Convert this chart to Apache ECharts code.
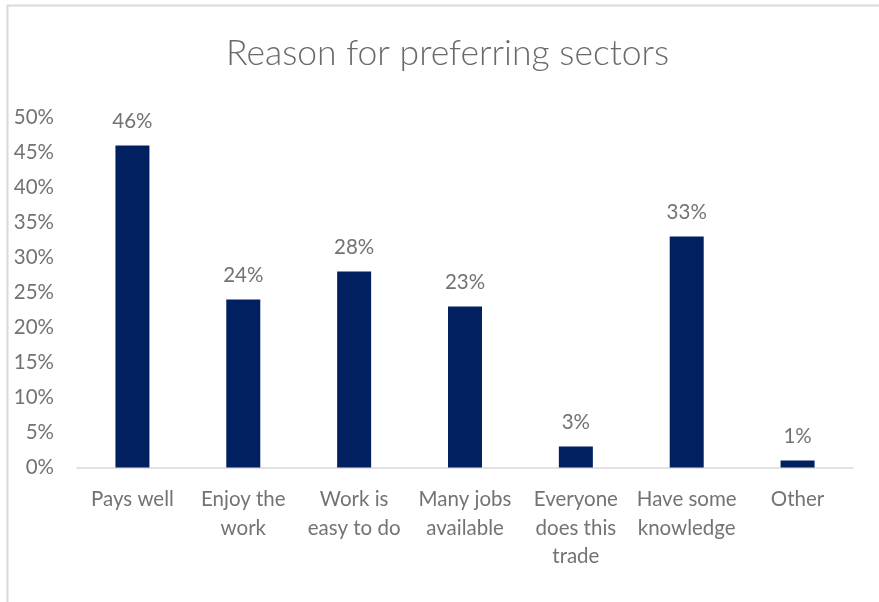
<!DOCTYPE html>
<html>
<head>
<meta charset="utf-8">
<script src="https://cdn.jsdelivr.net/npm/echarts@6/dist/echarts.min.js"></script>
<style>
  html, body { margin: 0; padding: 0; background: #ffffff; }
  #chart { width: 879px; height: 602px; }
</style>
</head>
<body>
<div id="chart"></div>
<script>
// Reasons given for preferring a sector (share of respondents, %)
const chartTitle = 'Reason for preferring sectors';
const categories = [
  'Pays well',
  'Enjoy the\nwork',
  'Work is\neasy to do',
  'Many jobs\navailable',
  'Everyone\ndoes this\ntrade',
  'Have some\nknowledge',
  'Other'
];
const shares = [46, 24, 28, 23, 3, 33, 1];
const axisMin = 0;
const axisMax = 50;
const axisStep = 5;

const textColor = '#737373';
const fontFamily = 'Lato, "Noto Sans", sans-serif';
const labelSize = 20.5;

const chart = echarts.init(document.getElementById('chart'), null, { renderer: 'canvas' });

chart.setOption({
  backgroundColor: '#ffffff',
  animation: false,
  graphic: [{
    type: 'rect',
    silent: true,
    shape: { x: 7.5, y: 5.5, width: 1000, height: 1000 },
    style: { fill: 'none', stroke: '#d9d9d9', lineWidth: 2 }
  }],
  title: {
    text: chartTitle,
    left: 221,
    top: 31,
    textStyle: {
      fontFamily: fontFamily,
      fontWeight: 300,
      fontSize: 35.5,
      color: '#6a6a6a'
    }
  },
  grid: {
    left: 77,
    right: 26,
    top: 117.5,
    bottom: 134.5,
    containLabel: false
  },
  xAxis: {
    type: 'category',
    data: categories,
    axisLine: { show: true, lineStyle: { color: '#d9d9d9', width: 1.5 } },
    axisTick: { show: false },
    axisLabel: {
      interval: 0,
      margin: 18,
      fontFamily: fontFamily,
      fontSize: labelSize,
      lineHeight: 28.5,
      color: textColor,
      align: 'center',
      verticalAlign: 'top'
    }
  },
  yAxis: {
    type: 'value',
    min: axisMin,
    max: axisMax,
    interval: axisStep,
    splitLine: { show: false },
    axisLine: { show: false },
    axisTick: { show: false },
    axisLabel: {
      margin: 23,
      fontFamily: fontFamily,
      fontSize: labelSize,
      color: textColor,
      formatter: v => v + '%'
    }
  },
  series: [{
    type: 'bar',
    data: shares,
    barWidth: 34,
    itemStyle: { color: '#002060' },
    label: {
      show: true,
      position: 'top',
      distance: 14,
      fontFamily: fontFamily,
      fontSize: labelSize,
      color: textColor,
      formatter: p => p.value + '%'
    }
  }]
});
</script>
</body>
</html>
